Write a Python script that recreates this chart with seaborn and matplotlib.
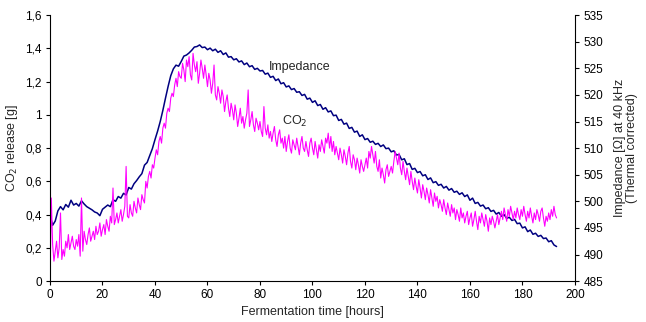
import matplotlib
matplotlib.use("Agg")
import matplotlib.pyplot as plt
from matplotlib.ticker import FuncFormatter
import pandas as pd
import seaborn as sns

# CO2 release [g], one reading every half hour (0..193 h)
co2_release = [
    0.00, 0.50, 0.22, 0.12, 0.18, 0.24, 0.14, 0.20, 0.41, 0.13, 0.19, 0.15, 0.24, 0.20, 0.28, 0.19, 0.23, 0.27, 0.21, 0.19,
    0.25, 0.21, 0.28, 0.15, 0.50, 0.18, 0.30, 0.25, 0.22, 0.28, 0.32, 0.24, 0.27, 0.30, 0.25, 0.33, 0.28, 0.30, 0.35, 0.27,
    0.31, 0.34, 0.28, 0.37, 0.33, 0.30, 0.39, 0.35, 0.56, 0.34, 0.37, 0.41, 0.35, 0.39, 0.43, 0.36, 0.40, 0.45, 0.69, 0.39,
    0.38, 0.46, 0.41, 0.39, 0.48, 0.44, 0.41, 0.50, 0.46, 0.43, 0.52, 0.49, 0.47, 0.60, 0.56, 0.63, 0.66, 0.62, 0.70, 0.68,
    0.74, 0.79, 0.76, 0.84, 0.87, 0.83, 0.92, 0.95, 0.92, 1.01, 1.04, 1.02, 1.10, 1.13, 1.11, 1.18, 1.22, 1.17, 1.26, 1.23,
    1.22, 1.31, 1.27, 1.20, 1.33, 1.29, 1.35, 1.24, 1.21, 1.37, 1.30, 1.26, 1.32, 1.19, 1.25, 1.33, 1.28, 1.22, 1.30, 1.24,
    1.17, 1.25, 1.21, 1.13, 1.19, 1.30, 1.12, 1.09, 1.17, 1.13, 1.07, 1.15, 1.11, 1.02, 1.08, 1.12, 1.04, 0.99, 1.07, 1.03,
    0.97, 1.06, 1.01, 0.93, 0.98, 1.04, 0.95, 0.99, 0.92, 0.97, 1.01, 1.15, 0.93, 0.97, 1.02, 0.94, 0.90, 0.98, 0.95, 0.91,
    0.96, 0.90, 0.87, 1.05, 0.92, 0.88, 0.94, 0.86, 0.90, 0.84, 0.89, 0.93, 0.85, 0.81, 0.88, 0.91, 0.83, 0.86, 0.80, 0.87,
    0.78, 0.84, 0.88, 0.80, 0.77, 0.85, 0.82, 0.79, 0.86, 0.81, 0.76, 0.83, 0.87, 0.80, 0.78, 0.84, 0.79, 0.75, 0.83, 0.86,
    0.80, 0.76, 0.84, 0.79, 0.74, 0.82, 0.78, 0.85, 0.81, 0.77, 0.86, 0.83, 0.89, 0.80, 0.87, 0.78, 0.84, 0.76, 0.81, 0.77,
    0.73, 0.80, 0.76, 0.71, 0.79, 0.75, 0.70, 0.77, 0.81, 0.72, 0.68, 0.76, 0.73, 0.67, 0.74, 0.70, 0.65, 0.73, 0.69, 0.66,
    0.70, 0.74, 0.68, 0.78, 0.74, 0.81, 0.76, 0.71, 0.78, 0.69, 0.66, 0.73, 0.62, 0.68, 0.64, 0.59, 0.67, 0.70, 0.63, 0.66,
    0.69, 0.65, 0.72, 0.78, 0.74, 0.70, 0.77, 0.68, 0.64, 0.72, 0.66, 0.61, 0.68, 0.63, 0.58, 0.66, 0.60, 0.55, 0.62, 0.57,
    0.53, 0.61, 0.56, 0.50, 0.58, 0.54, 0.49, 0.56, 0.52, 0.47, 0.55, 0.50, 0.45, 0.53, 0.48, 0.51, 0.44, 0.49, 0.46, 0.42,
    0.49, 0.44, 0.40, 0.47, 0.43, 0.39, 0.46, 0.41, 0.44, 0.37, 0.43, 0.40, 0.36, 0.44, 0.38, 0.41, 0.35, 0.39, 0.42, 0.34,
    0.38, 0.41, 0.33, 0.37, 0.42, 0.36, 0.31, 0.39, 0.35, 0.41, 0.37, 0.33, 0.40, 0.36, 0.30, 0.38, 0.34, 0.39, 0.36, 0.32,
    0.36, 0.40, 0.34, 0.38, 0.42, 0.37, 0.44, 0.40, 0.36, 0.43, 0.39, 0.45, 0.41, 0.37, 0.42, 0.38, 0.44, 0.40, 0.37, 0.43,
    0.39, 0.45, 0.40, 0.36, 0.42, 0.38, 0.44, 0.39, 0.35, 0.41, 0.37, 0.43, 0.40, 0.36, 0.42, 0.44, 0.38, 0.33, 0.39, 0.36,
    0.41, 0.37, 0.43, 0.39, 0.45, 0.40, 0.38,
]
co2_hours = [0.5 * i for i in range(len(co2_release))]

# impedance [ohm] at 40 kHz, thermal corrected, one reading per hour (0..193 h)
impedance = [
    497.4, 495.5, 496.3, 498.2, 499.0, 498.4, 499.4, 498.9, 500.2, 499.3,
    499.6, 499.1, 500.1, 499.5, 499.0, 498.7, 498.4, 498.0, 497.8, 497.3,
    498.5, 498.9, 499.3, 499.0, 500.3, 500.0, 500.9, 500.6, 501.5, 501.2,
    502.6, 502.3, 503.3, 503.9, 504.6, 505.2, 506.8, 507.3, 508.6, 509.9,
    511.6, 513.2, 515.0, 517.1, 519.4, 521.6, 523.6, 524.9, 525.6, 525.4,
    526.3, 527.3, 527.5, 527.9, 528.4, 529.0, 529.1, 529.4, 528.9, 529.0,
    528.5, 528.8, 528.3, 528.6, 528.0, 528.3, 527.6, 527.9, 527.1, 527.2,
    526.6, 526.8, 526.2, 526.4, 525.7, 526.0, 525.3, 525.5, 524.8, 525.0,
    524.5, 524.6, 523.9, 524.1, 523.3, 523.5, 522.7, 523.0, 522.1, 522.3,
    521.5, 521.7, 521.0, 521.2, 520.5, 520.6, 519.9, 520.1, 519.2, 519.4,
    518.6, 518.9, 518.0, 518.2, 517.3, 517.6, 516.8, 517.0, 516.1, 516.2,
    515.2, 515.4, 514.5, 514.7, 513.7, 513.9, 513.0, 513.2, 512.2, 512.5,
    511.6, 511.8, 511.1, 511.3, 510.7, 510.9, 510.3, 510.6, 509.9, 510.0,
    509.3, 509.5, 508.7, 508.8, 507.8, 508.0, 506.9, 507.1, 506.0, 506.2,
    505.4, 505.6, 504.8, 505.0, 504.1, 504.4, 503.5, 503.7, 503.0, 503.2,
    502.5, 502.8, 502.1, 502.4, 501.7, 501.9, 501.3, 501.6, 500.9, 501.2,
    500.2, 500.6, 499.6, 499.8, 499.1, 499.3, 498.6, 498.8, 498.1, 498.3,
    497.6, 497.9, 497.2, 497.5, 496.8, 497.0, 496.4, 496.6, 495.8, 495.9,
    495.0, 495.2, 494.3, 494.6, 493.8, 494.0, 493.4, 493.6, 493.0, 493.1,
    492.4, 492.6, 491.8, 491.5,
]
imp_hours = list(range(len(impedance)))

x_ticks = [0, 20, 40, 60, 80, 100, 120, 140, 160, 180, 200]
co2_ticks = [0, 0.2, 0.4, 0.6, 0.8, 1.0, 1.2, 1.4, 1.6]
imp_ticks = [485, 490, 495, 500, 505, 510, 515, 520, 525, 530, 535]

sns.set_style("white")
plt.rcParams["font.family"] = ["Liberation Sans", "DejaVu Sans"]
plt.rcParams["font.size"] = 8.5

fig = plt.figure(figsize=(6.46, 3.22), dpi=100)
ax = fig.add_axes([0.0774, 0.127, 0.8126, 0.826])
ax2 = ax.twinx()

co2_df = pd.DataFrame({"hours": co2_hours, "co2": co2_release})
imp_df = pd.DataFrame({"hours": imp_hours, "imp": impedance})

sns.lineplot(data=imp_df, x="hours", y="imp", ax=ax2, color="#000080", linewidth=1.1)
sns.lineplot(data=co2_df, x="hours", y="co2", ax=ax, color="#ff00ff", linewidth=0.8)

# magenta trace above the navy one
ax.set_zorder(ax2.get_zorder() + 1)
ax.patch.set_visible(False)

ax.set_xlim(0, 200)
ax.set_ylim(0, 1.6)
ax2.set_ylim(485, 535)
ax.set_xticks(x_ticks)
ax.set_yticks(co2_ticks)
ax2.set_yticks(imp_ticks)

def comma(v, pos):
    s = ("%.1f" % v).replace(".", ",")
    return s[:-2] if s.endswith(",0") else s

ax.yaxis.set_major_formatter(FuncFormatter(comma))

for a in (ax, ax2):
    a.spines["top"].set_visible(False)
    for s in a.spines.values():
        s.set_linewidth(0.8)
        s.set_color("black")
ax.spines["right"].set_visible(False)
ax2.spines["left"].set_visible(False)
ax2.spines["bottom"].set_visible(False)

ax.tick_params(axis="both", direction="out", length=3, width=0.8, colors="black", labelsize=8.5, pad=3)
ax.tick_params(axis="x", bottom=True)
ax.tick_params(axis="y", left=True)
ax2.tick_params(axis="y", right=True, direction="out", length=3, width=0.8, colors="black", labelsize=8.5, pad=3)

ax.set_xlabel("Fermentation time [hours]", fontsize=9, labelpad=3)
ax.set_ylabel("CO$_2$ release [g]", fontsize=9, labelpad=4)
ax2.set_ylabel("Impedance [\u03a9] at 40 kHz\n(Thermal corrected)", fontsize=9, labelpad=8,
               linespacing=1.0, ha="center")

ax.text(83.5, 1.29, "Impedance", fontsize=9, va="center", ha="left")
ax.text(88.5, 0.96, "CO$_2$", fontsize=9, va="center", ha="left")

fig.savefig("out.png", dpi=100)
